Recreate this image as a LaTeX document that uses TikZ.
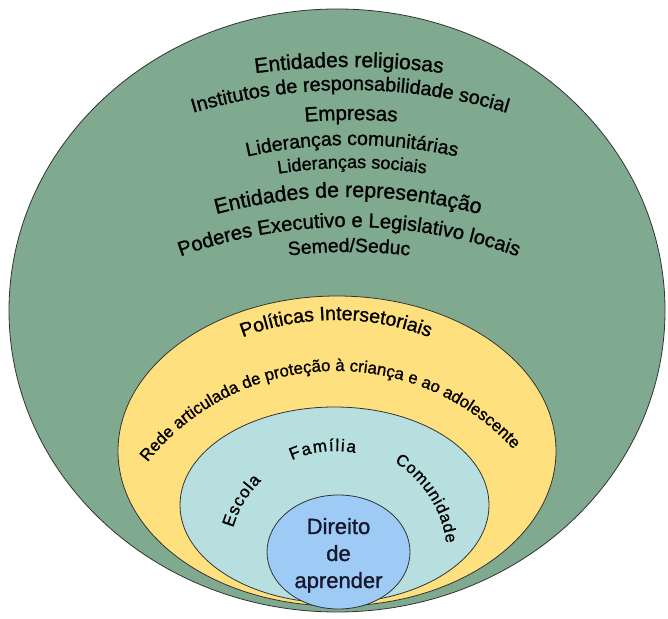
\documentclass[tikz,border=0pt]{standalone}
\usepackage{fontspec}
\setmainfont{Liberation Sans}[FakeBold=1.1]
\usetikzlibrary{decorations.text}
\definecolor{cgreen}{RGB}{128,170,143}
\definecolor{cyellow}{RGB}{255,224,126}
\definecolor{clight}{RGB}{183,223,224}
\definecolor{cblue}{RGB}{157,203,245}
\definecolor{cink}{RGB}{22,22,44}
\newcommand\ArcTxt[7]{%
  \path[decorate,decoration={text along path,text align={#6},text={#7}}]
    ([shift={(#4:#3)}]#1,#2) arc[start angle=#4,end angle=#5,radius=#3];}
\newcommand\fs[1]{\fontsize{#1}{#1}\selectfont}
\begin{document}
\begin{tikzpicture}[x=1pt,y=1pt,
  ring/.style={draw=black!80,line width=0.8pt}]
\useasboundingbox (0,0) rectangle (668,618);
\fill[white] (0,0) rectangle (668,618);
% rings
\path[ring,fill=cgreen]  (337,307.5) ellipse[x radius=328,y radius=301.5];
\path[ring,fill=cyellow] (337,167) ellipse[x radius=219,y radius=155];
\path[ring,fill=clight]  (334.5,113) ellipse[x radius=154.5,y radius=98];
\path[ring,fill=cblue]   (338.5,66) ellipse[x radius=71.5,y radius=57];
% outer ring texts
\ArcTxt{349}{-161}{712}{100}{80}{center}{|\fs{21}|Entidades religiosas}
\ArcTxt{350}{-22}{550}{115}{65}{center}{|\fs{19.8}|Institutos de responsabilidade social}
\ArcTxt{351}{-102}{600}{100}{80}{center}{|\fs{20.5}|Empresas}
\ArcTxt{352}{-7}{480}{110}{70}{center}{|\fs{19.5}|Lideranças comunitárias}
\ArcTxt{352}{-30}{480}{110}{70}{center}{|\fs{18}|Lideranças sociais}
\ArcTxt{348}{-94}{515}{110}{70}{center}{|\fs{21.3}|Entidades de representação}
\ArcTxt{349}{-106}{497}{115}{65}{center}{|\fs{20.2}|Poderes Executivo e Legislativo locais}
\ArcTxt{349}{-134}{500}{100}{80}{center}{|\fs{19.3}|Semed/Seduc}
% yellow ring texts
\ArcTxt{336}{38}{260}{125}{55}{center}{|\fs{19.5}|Políticas Intersetoriais}
\ArcTxt{336}{7}{240}{152}{32}{center}{|\fs{16.8}|Rede articulada de proteção à criança e ao adolescente}
% light ring texts
\ArcTxt{335}{61}{106}{164}{134}{fit to path}{|\fs{17}|Escola}
\ArcTxt{335}{61}{106}{114}{79}{fit to path}{|\fs{17}|Família}
\ArcTxt{335}{61}{112}{58}{7}{fit to path}{|\fs{16.5}|Comunidade}
% centre
\node[align=center,font=\fontsize{22}{27}\selectfont,text=cink,inner sep=0pt] (dir) at (338.5,62.7)
  {Direito\\de\\aprender};
\end{tikzpicture}
\end{document}
